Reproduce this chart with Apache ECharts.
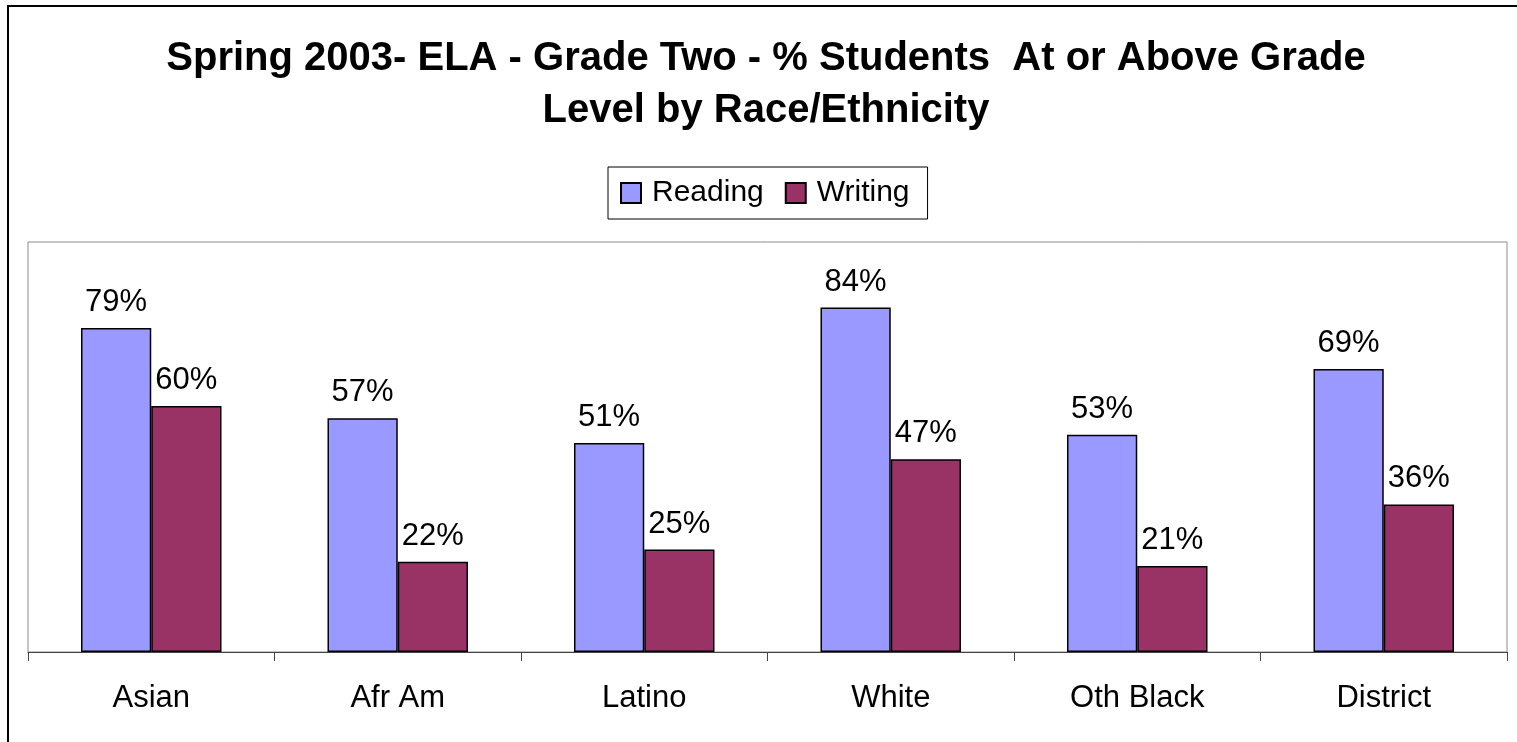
<!DOCTYPE html>
<html>
<head>
<meta charset="utf-8">
<title>Spring 2003 ELA Grade Two</title>
<script src="https://cdn.jsdelivr.net/npm/echarts@6/dist/echarts.min.js"></script>
<style>
    html, body { margin: 0; padding: 0; background: #fff; }
    #chart { width: 1517px; height: 742px; }
</style>
</head>
<body>
<div id="chart"></div>
<script>
// data
var categories = ["Asian", "Afr Am", "Latino", "White", "Oth Black", "District"];
var reading = [79, 57, 51, 84, 53, 69];
var writing = [60, 22, 25, 47, 21, 36];
var seriesNames = ["Reading", "Writing"];

var fontName = "Liberation Sans, Arial, sans-serif";

var chart = echarts.init(document.getElementById('chart'));

var labelOpt = {
    show: true,
    position: 'top',
    distance: 10,
    formatter: '{c}%',
    color: '#000',
    fontSize: 31,
    fontFamily: fontName
};

var option = {
    backgroundColor: '#fff',
    animation: false,
    title: {
        text: "Spring 2003- ELA - Grade Two - % Students  At or Above Grade\nLevel by Race/Ethnicity",
        left: 766,
        top: 33,
        padding: 0,
        textAlign: 'center',
        textStyle: {
            fontFamily: fontName,
            fontWeight: 'bold',
            fontSize: 40,
            lineHeight: 52,
            color: '#000'
        }
    },
    legend: {
        data: seriesNames,
        left: 608,
        top: 167,
        padding: [11, 18, 11, 12],
        itemGap: 21,
        itemWidth: 20,
        itemHeight: 20,
        icon: 'rect',
        borderColor: '#000',
        borderWidth: 1,
        textStyle: {
            fontFamily: fontName,
            fontSize: 30,
            color: '#000',
            padding: [0, 0, 0, 6]
        }
    },
    grid: {
        left: 28,
        right: 10,
        top: 242,
        bottom: 90,
        show: true,
        borderColor: '#8c8c8c',
        borderWidth: 1
    },
    xAxis: {
        type: 'category',
        data: categories,
        axisLine: { lineStyle: { color: '#444', width: 1 } },
        axisTick: { show: true, length: 9, lineStyle: { color: '#444' } },
        axisLabel: {
            color: '#000',
            fontSize: 31,
            fontFamily: fontName,
            margin: 31
        }
    },
    yAxis: {
        type: 'value',
        min: 0,
        max: 100,
        show: false,
        splitLine: { show: false }
    },
    series: [
        {
            name: seriesNames[0],
            type: 'bar',
            data: reading,
            barGap: '0%',
            barCategoryGap: '43%',
            itemStyle: { color: '#9999ff', borderColor: '#000', borderWidth: 1.5 },
            label: labelOpt
        },
        {
            name: seriesNames[1],
            type: 'bar',
            data: writing,
            barGap: '0%',
            barCategoryGap: '43%',
            itemStyle: { color: '#993366', borderColor: '#000', borderWidth: 1.5 },
            label: labelOpt
        }
    ],
    graphic: [
        {
            type: 'rect',
            shape: { x: 8, y: 6, width: 1600, height: 800 },
            style: { fill: null, stroke: '#000', lineWidth: 2 },
            silent: true
        }
    ]
};

chart.setOption(option);
</script>
</body>
</html>
